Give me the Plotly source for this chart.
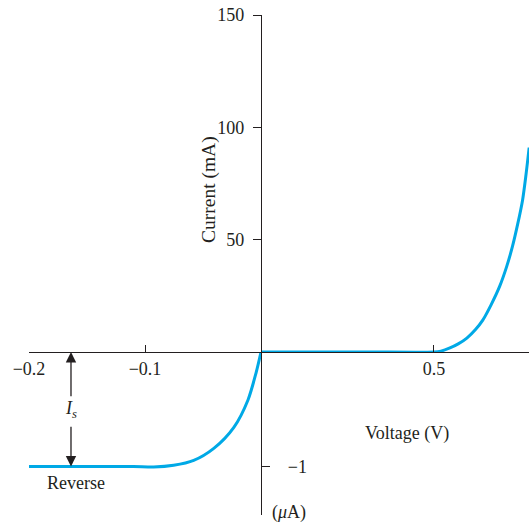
import plotly.graph_objects as go

# Forward-bias branch: voltage (V) vs current (mA)
fwd_voltage = [0.0, 0.30, 0.50, 0.520, 0.546, 0.570, 0.595, 0.620, 0.641, 0.665, 0.690, 0.710, 0.727, 0.742, 0.756, 0.766, 0.775]
fwd_current = [0.0, 0.0, 0.0, 0.4, 1.8, 3.6, 6.2, 10.0, 14.2, 21.0, 29.3, 38.0, 47.1, 57.0, 67.6, 79.0, 91.0]

# Reverse-bias branch: voltage (V) vs current (µA)
rev_voltage = [-0.200, -0.150, -0.110, -0.0926, -0.0753, -0.058, -0.0407, -0.0234, -0.0113, -0.0043, 0.0]
rev_current = [-1.0, -1.0, -1.0, -1.005, -0.99, -0.947, -0.842, -0.658, -0.421, -0.184, 0.0]

# Tick labels
neg_v_ticks = [-0.2, -0.1]
neg_v_text = ["\u22120.2", "\u22120.1"]
pos_v_ticks = [0.5]
pos_v_text = ["0.5"]
ma_ticks = [50, 100, 150]
ua_ticks = [-1]
ua_text = ["\u22121"]

# Saturation current marker position (V)
is_voltage = -0.1638

INK = "#231f20"
CURVE = "#00a9e6"
FAMILY = "Liberation Serif, Times New Roman, serif"
FONT = dict(family=FAMILY, size=18, color=INK)

X0 = 0.464   # paper x of V = 0
Y0 = 0.326   # paper y of I = 0

fig = go.Figure()

fig.add_trace(go.Scatter(
    x=rev_voltage, y=rev_current, xaxis="x", yaxis="y2",
    mode="lines", line=dict(color=CURVE, width=3, shape="spline", smoothing=0.8),
    hoverinfo="skip", showlegend=False,
))
fig.add_trace(go.Scatter(
    x=fwd_voltage, y=fwd_current, xaxis="x2", yaxis="y",
    mode="lines", line=dict(color=CURVE, width=3, shape="spline", smoothing=0.8),
    hoverinfo="skip", showlegend=False,
))

axis_common = dict(showgrid=False, zeroline=False, showline=True, linecolor=INK,
                   linewidth=1.3, tickcolor=INK, tickwidth=1.3, tickfont=FONT,
                   fixedrange=True)

fig.update_layout(
    width=529, height=525,
    margin=dict(l=29, r=0, t=15, b=10),
    paper_bgcolor="white", plot_bgcolor="white",
    font=FONT,
    xaxis=dict(domain=[0, X0], range=[-0.2, 0], anchor="free", position=Y0,
               ticks="inside", ticklen=7, tickvals=neg_v_ticks, ticktext=neg_v_text,
               ticklabelstandoff=0, **axis_common),
    xaxis2=dict(domain=[X0, 1], range=[0, 0.7746], anchor="free", position=Y0,
                ticks="inside", ticklen=7, tickvals=pos_v_ticks, ticktext=pos_v_text,
                ticklabelstandoff=0, **axis_common),
    yaxis=dict(domain=[Y0, 1], range=[0, 150], anchor="free", position=X0,
               side="left", ticks="outside", ticklen=8, tickvals=ma_ticks,
               ticklabelstandoff=5, **axis_common),
    yaxis2=dict(domain=[0, Y0], range=[-1.4236, 0], anchor="free", position=X0,
                side="right", ticks="outside", ticklen=8, tickvals=ua_ticks,
                ticktext=ua_text, ticklabelstandoff=14, **axis_common),
    yaxis3=dict(overlaying="y2", range=[-1.4236, 0], anchor="free", position=X0,
                side="left", ticks="outside", ticklen=8, tickvals=ua_ticks,
                showticklabels=False, showline=False, showgrid=False,
                zeroline=False, tickcolor=INK, tickwidth=1.3, fixedrange=True),
)

centered = dict(xanchor="center", yanchor="middle", showarrow=False)
annotations = [
    dict(text="Current (mA)", textangle=-90, xref="paper", yref="paper",
         x=0.36, y=0.65, font=dict(family=FAMILY, size=19.5, color=INK), **centered),
    dict(text="Voltage (V)", xref="paper", yref="paper",
         x=0.756, y=0.164, font=FONT, **centered),
    dict(text="(<i>\u03bc</i>A)", xref="paper", yref="paper",
         x=0.52, y=0.006, font=FONT, **centered),
    dict(text="Reverse", xref="paper", yref="paper",
         x=0.094, y=0.064, font=FONT, **centered),
    # saturation current label with its upward arrow to the axis
    dict(text="<i>I<sub>s</sub></i>", xref="x", yref="y2",
         x=is_voltage, y=0, axref="x", ayref="y2", ax=is_voltage, ay=-0.5,
         showarrow=True, arrowhead=2, arrowsize=1.6, arrowwidth=1.3,
         arrowcolor=INK, font=FONT, standoff=0, startstandoff=0),
    # downward arrow to the saturation level
    dict(text="", xref="x", yref="y2", x=is_voltage, y=-1, axref="x", ayref="y2",
         ax=is_voltage, ay=-0.64, showarrow=True, arrowhead=2, arrowsize=1.6,
         arrowwidth=1.3, arrowcolor=INK),
]
fig.update_layout(annotations=annotations)

fig.write_html("out.html")
